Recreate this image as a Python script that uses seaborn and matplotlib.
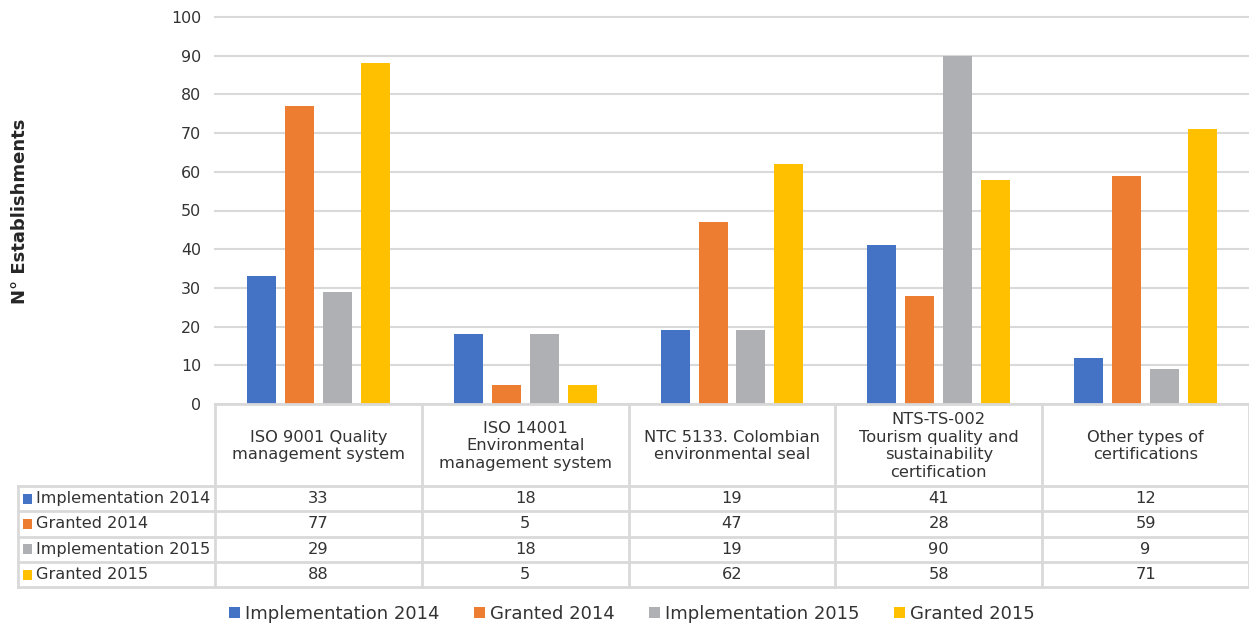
import matplotlib
matplotlib.use("Agg")
import matplotlib.pyplot as plt
import matplotlib.transforms as mtrans
from matplotlib.lines import Line2D
from matplotlib.patches import Rectangle, Patch
import seaborn as sns
import pandas as pd

categories = [
    "ISO 9001 Quality\nmanagement system",
    "ISO 14001\nEnvironmental\nmanagement system",
    "NTC 5133. Colombian\nenvironmental seal",
    "NTS-TS-002\nTourism quality and\nsustainability\ncertification",
    "Other types of\ncertifications",
]
series_names = ["Implementation 2014", "Granted 2014", "Implementation 2015", "Granted 2015"]
impl_2014 = [33, 18, 19, 41, 12]
granted_2014 = [77, 5, 47, 28, 59]
impl_2015 = [29, 18, 19, 90, 9]
granted_2015 = [88, 5, 62, 58, 71]
y_ticks = [0, 10, 20, 30, 40, 50, 60, 70, 80, 90, 100]
colors = ["#4472C4", "#ED7D31", "#AFB0B3", "#FFC000"]

values = [impl_2014, granted_2014, impl_2015, granted_2015]
rows = []
for name, vals in zip(series_names, values):
    for cat, v in zip(categories, vals):
        rows.append({"category": cat, "series": name, "value": v})
df = pd.DataFrame(rows)

W, H = 1249, 625
fig = plt.figure(figsize=(W / 100, H / 100), dpi=100)
def fx(x): return x / W
def fy(y): return 1 - y / H

ax_left, ax_right, ax_top, ax_bottom = 215, 1249, 17, 404
ax = fig.add_axes([fx(ax_left), fy(ax_bottom), fx(ax_right) - fx(ax_left), fy(ax_top) - fy(ax_bottom)])

sns.barplot(data=df, x="category", y="value", hue="series", order=categories,
            hue_order=series_names, palette=colors, width=0.734, gap=0.237,
            ax=ax, legend=False, saturation=1, linewidth=0)

grid_col = "#D9D9D9"
text_col = "#333333"
fs_table = 11.7
ax.set_xlim(-0.5, len(categories) - 0.5)
ax.set_ylim(0, 100)
ax.set_yticks(y_ticks)
ax.set_yticklabels([str(t) for t in y_ticks], fontsize=11.4, color=text_col)
ax.tick_params(axis="y", length=0, pad=10)
ax.tick_params(axis="x", length=0, labelbottom=False)
ax.set_xlabel("")
ax.set_ylabel("")
ax.yaxis.grid(True, color=grid_col, linewidth=1.5)
for gl in ax.get_ygridlines():
    gl.set_clip_on(False)
ax.set_axisbelow(True)
for s in ax.spines.values():
    s.set_visible(False)

fig.text(fx(20), fy(211), "N° Establishments", rotation=90, ha="center", va="center",
         fontsize=13, fontweight="bold", color="#262626")

# data table
lw = 2
def hline(y, x0, x1):
    fig.add_artist(Line2D([fx(x0), fx(x1)], [fy(y), fy(y)], color=grid_col, lw=lw, transform=fig.transFigure))
def vline(x, y0, y1):
    fig.add_artist(Line2D([fx(x), fx(x)], [fy(y0), fy(y1)], color=grid_col, lw=lw, transform=fig.transFigure))

header_top, header_bot = 404, 486
row_h = 25.3
row_ys = [header_bot + i * row_h for i in range(len(series_names) + 1)]
table_left = 18

hline(header_top, ax_left, ax_right)
for y in row_ys:
    hline(y, table_left, ax_right)
col_w = (ax_right - ax_left) / len(categories)
for i in range(len(categories) + 1):
    vline(ax_left + i * col_w, header_top, row_ys[-1])
vline(table_left, header_bot, row_ys[-1])

blend = mtrans.blended_transform_factory(ax.transData, fig.transFigure)
for i, cat in enumerate(categories):
    fig.text(i, fy((header_top + header_bot) / 2 + 1), cat, transform=blend, ha="center", va="center",
             multialignment="center", fontsize=fs_table, color=text_col, linespacing=1.22)

for r, (name, vals, c) in enumerate(zip(series_names, values, colors)):
    yc = (row_ys[r] + row_ys[r + 1]) / 2
    fig.add_artist(Rectangle((fx(23), fy(yc + 5)), fx(9), fy(yc - 5) - fy(yc + 5),
                             facecolor=c, edgecolor="none", transform=fig.transFigure))
    fig.text(fx(36), fy(yc), name, ha="left", va="center", fontsize=fs_table - 0.1, color=text_col)
    for i, v in enumerate(vals):
        fig.text(i, fy(yc), str(v), transform=blend, ha="center", va="center", fontsize=fs_table, color=text_col)

handles = [Patch(facecolor=c, edgecolor="none") for c in colors]
fig.legend(handles, series_names, loc="center", bbox_to_anchor=(fx(632), fy(614)), ncol=4,
           frameon=False, fontsize=13, handlelength=0.6, handleheight=0.6, handletextpad=0.3,
           columnspacing=1.9, labelcolor=text_col)

fig.savefig("out.png", dpi=100)
